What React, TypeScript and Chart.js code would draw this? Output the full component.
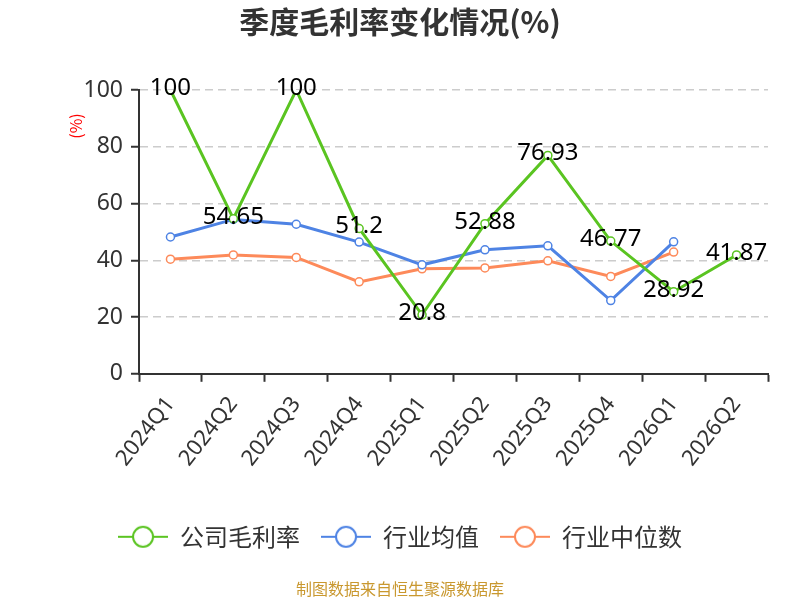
import React, { useEffect, useRef } from 'react';
import Chart from 'chart.js/auto';

const quarters = ['2024Q1', '2024Q2', '2024Q3', '2024Q4', '2025Q1', '2025Q2', '2025Q3', '2025Q4', '2026Q1', '2026Q2'];
const companyMargin = [100, 54.65, 100, 51.2, 20.8, 52.88, 76.93, 46.77, 28.92, 41.87];
const industryAvg = [48.2, 54.4, 52.7, 46.4, 38.4, 43.7, 45.1, 25.8, 46.5, null];
const industryMedian = [40.4, 41.9, 41.0, 32.4, 37.0, 37.3, 39.8, 34.3, 42.9, null];
const yTicks = [0, 20, 40, 60, 80, 100];

const FONT = '"Noto Sans CJK SC", "Noto Sans", sans-serif';
const NUM_FONT = '"Noto Sans", "Noto Sans CJK SC", sans-serif';
const GREEN = '#5ac421';
const BLUE = '#4e83e4';
const ORANGE = '#fd8a5a';

// line + hollow circle, like the legend symbols in the picture
function legendSymbol(color: string): HTMLCanvasElement {
    const c = document.createElement('canvas');
    c.width = 50;
    c.height = 26;
    const ctx = c.getContext('2d');
    if (ctx) {
        ctx.strokeStyle = color;
        ctx.lineWidth = 2;
        ctx.beginPath();
        ctx.moveTo(0, 13);
        ctx.lineTo(50, 13);
        ctx.stroke();
        ctx.beginPath();
        ctx.arc(25, 13, 10, 0, Math.PI * 2);
        ctx.fillStyle = '#fff';
        ctx.fill();
        ctx.stroke();
    }
    return c;
}

const valueLabels = {
    id: 'valueLabels',
    afterDatasetsDraw(chart: any) {
        const meta = chart.getDatasetMeta(0);
        const ctx = chart.ctx;
        ctx.save();
        ctx.font = `24px ${NUM_FONT}`;
        ctx.fillStyle = '#000';
        ctx.textAlign = 'center';
        ctx.textBaseline = 'middle';
        meta.data.forEach((pt: any, i: number) => {
            ctx.fillText(String(companyMargin[i]), pt.x, pt.y - 2);
        });
        ctx.restore();
    },
};

const unitLabel = {
    id: 'unitLabel',
    afterDraw(chart: any) {
        const { ctx, chartArea } = chart;
        ctx.save();
        ctx.translate(chartArea.left - 63, chartArea.top + 36);
        ctx.rotate(-Math.PI / 2);
        ctx.font = `16px ${FONT}`;
        ctx.fillStyle = '#ff0000';
        ctx.textAlign = 'center';
        ctx.textBaseline = 'middle';
        ctx.fillText('(%)', 0, 0);
        ctx.restore();
    },
};

// title, legend and footer are centred on the whole canvas, not on the padded area
const fullWidthBlocks = {
    id: 'fullWidthBlocks',
    afterLayout(chart: any) {
        chart.boxes.forEach((b: any) => {
            if (!b.axis && (b.position === 'top' || b.position === 'bottom')) {
                b.left = 0;
                b.right = chart.width;
                b.width = chart.width;
            }
        });
    },
};

const App: React.FC = () => {
    const chartRef = useRef<HTMLCanvasElement | null>(null);
    const chartInstanceRef = useRef<Chart | null>(null);

    useEffect(() => {
        document.body.style.margin = '0';
        if (chartRef.current) {
            if (chartInstanceRef.current) {
                chartInstanceRef.current.destroy();
            }
            const ctx = chartRef.current.getContext('2d');
            if (ctx) {
                const symbols = [legendSymbol(GREEN), legendSymbol(BLUE), legendSymbol(ORANGE)];
                const point = (color: string) => ({
                    borderColor: color,
                    backgroundColor: color,
                    pointBackgroundColor: '#fff',
                    pointBorderColor: color,
                    pointBorderWidth: 1.5,
                    pointRadius: 4,
                    borderWidth: 3,
                    fill: false,
                    tension: 0,
                });
                chartInstanceRef.current = new Chart(ctx, {
                    type: 'line',
                    data: {
                        labels: quarters,
                        datasets: [
                            { label: '公司毛利率', data: companyMargin, ...point(GREEN) },
                            { label: '行业均值', data: industryAvg, ...point(BLUE) },
                            { label: '行业中位数', data: industryMedian, ...point(ORANGE) },
                        ],
                    },
                    options: {
                        responsive: false,
                        animation: false,
                        layout: { padding: { left: 0, right: 32, top: 0, bottom: 0 } },
                        plugins: {
                            title: {
                                display: true,
                                text: '季度毛利率变化情况(%)',
                                color: '#333',
                                font: { family: FONT, size: 30, weight: 'bold' },
                                padding: { top: 4, bottom: 50 },
                            },
                            subtitle: {
                                display: true,
                                position: 'bottom',
                                text: '制图数据来自恒生聚源数据库',
                                color: '#c9982f',
                                font: { family: FONT, size: 16 },
                                padding: { top: 21, bottom: 1 },
                            },
                            legend: {
                                position: 'bottom',
                                labels: {
                                    usePointStyle: true,
                                    pointStyleWidth: 50,
                                    padding: 21,
                                    color: '#333',
                                    font: { family: FONT, size: 24 },
                                    generateLabels: (chart: any) =>
                                        chart.data.datasets.map((ds: any, i: number) => ({
                                            text: ds.label,
                                            pointStyle: symbols[i],
                                            fontColor: '#333',
                                            strokeStyle: ds.borderColor,
                                            fillStyle: '#fff',
                                            lineWidth: 0,
                                            datasetIndex: i,
                                            hidden: false,
                                        })),
                                },
                            },
                            tooltip: { enabled: false },
                        },
                        scales: {
                            x: {
                                offset: true,
                                afterFit: (scale: any) => {
                                    scale.height = 130;
                                },
                                grid: {
                                    offset: true,
                                    drawOnChartArea: false,
                                    tickLength: 8,
                                    tickColor: '#333',
                                    tickWidth: 2,
                                },
                                border: { color: '#333', width: 2 },
                                ticks: {
                                    color: '#333',
                                    font: { family: NUM_FONT, size: 22 },
                                    minRotation: 52,
                                    maxRotation: 52,
                                    padding: 10,
                                    autoSkip: false,
                                },
                            },
                            y: {
                                min: 0,
                                max: 100,
                                afterFit: (scale: any) => {
                                    scale.width = 139;
                                },
                                afterBuildTicks: (scale: any) => {
                                    scale.ticks = yTicks.map((v) => ({ value: v }));
                                },
                                grid: {
                                    color: '#cccccc',
                                    lineWidth: 1.5,
                                    tickLength: 8,
                                    tickColor: '#333',
                                    tickWidth: 2,
                                },
                                border: { color: '#333', width: 2, dash: [8, 5] },
                                ticks: {
                                    color: '#333',
                                    font: { family: NUM_FONT, size: 23 },
                                    padding: 8,
                                },
                            },
                        },
                    },
                    plugins: [valueLabels, unitLabel, fullWidthBlocks],
                });
            }
        }
        return () => {
            if (chartInstanceRef.current) {
                chartInstanceRef.current.destroy();
                chartInstanceRef.current = null;
            }
        };
    }, []);

    return (
        <div style={{ width: 800, height: 600 }}>
            <canvas ref={chartRef} width={800} height={600} style={{ width: 800, height: 600 }} />
        </div>
    );
};

export default App;
